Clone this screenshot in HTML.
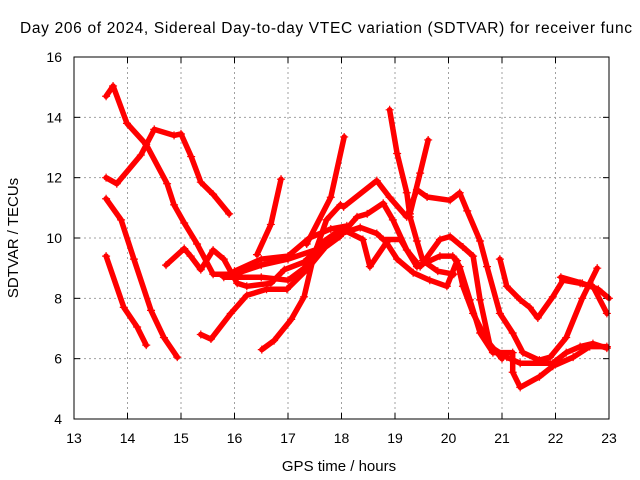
<!DOCTYPE html>
<html><head><meta charset="utf-8"><style>
body{margin:0;background:#fff;}
svg{display:block;font-family:"Liberation Sans",sans-serif;}
</style></head><body>
<svg width="640" height="480" viewBox="0 0 640 480">
<rect width="640" height="480" fill="#fff"/>
<text x="20" y="33" font-size="15.5" fill="#000" textLength="612" lengthAdjust="spacing">Day 206 of 2024, Sidereal Day-to-day VTEC variation (SDTVAR) for receiver func</text>
<g id="grid"></g>
<g id="ticks"></g>
<g id="series"></g>
<rect x="74" y="57" width="535" height="362" fill="none" stroke="#000" stroke-width="1"/>
<text x="339" y="471" font-size="15" text-anchor="middle">GPS time / hours</text>
<text transform="translate(18,238) rotate(-90)" font-size="15" text-anchor="middle">SDTVAR / TECUs</text>
</svg>
<script>
const xTicks=[13,14,15,16,17,18,19,20,21,22,23];
const yTicks=[4,6,8,10,12,14,16];
const trackA=[[13.6,14.7],[13.73,15.04],[13.99,13.8],[14.35,13.1],[14.74,11.8],[14.87,11.1],[15.06,10.5],[15.3,9.8],[15.6,8.8],[16.0,8.8],[16.5,9.1],[17.0,9.3],[17.5,9.6],[18.0,10.2]];
const trackB=[[13.6,12.0],[13.8,11.8],[14.25,12.75],[14.5,13.6],[14.87,13.4],[15.0,13.45],[15.19,12.7],[15.37,11.85],[15.6,11.45],[15.9,10.8]];
const trackC=[[13.6,11.3],[13.88,10.6],[14.12,9.3],[14.44,7.6],[14.68,6.7],[14.93,6.05]];
const trackD=[[13.6,9.4],[13.93,7.7],[14.18,7.05],[14.35,6.45]];
const trackE=[[14.72,9.1],[15.06,9.65],[15.18,9.4],[15.37,8.95],[15.6,9.6],[15.8,9.3],[16.05,8.5],[16.23,8.4],[16.68,8.5],[16.93,8.95],[17.3,9.2],[17.7,9.9],[18.0,10.15],[18.35,10.35],[18.66,10.15],[18.78,9.95],[19.1,9.95],[19.41,9.05],[19.84,9.4],[20.08,9.4],[20.21,9.05],[20.4,7.95],[20.59,6.85],[20.83,6.2],[21.2,6.2],[21.2,5.55],[21.34,5.05],[21.7,5.4],[21.95,5.75],[22.33,6.05],[22.64,6.4],[22.96,6.4]];
const trackF=[[15.37,6.8],[15.56,6.65],[15.93,7.5],[16.23,8.1],[16.6,8.3],[16.98,8.3],[17.35,8.95],[17.7,9.7],[17.97,10.05],[18.29,10.7],[18.48,10.8],[18.78,11.15],[18.96,10.6],[19.22,9.6],[19.47,9.05],[19.84,9.95],[20.03,10.05],[20.27,9.7],[20.46,9.4],[20.59,7.95],[20.78,6.4],[21.09,6.05],[21.34,5.85],[21.95,5.85],[22.2,6.2],[22.46,6.4],[22.7,6.5],[22.96,6.35]];
const trackG=[[16.51,6.3],[16.74,6.6],[17.06,7.3],[17.3,8.05],[17.48,9.4],[17.72,10.6],[17.98,11.1],[18.04,11.03],[18.66,11.9],[18.9,11.35],[19.22,10.7],[19.41,11.6],[19.6,11.36],[20.03,11.25],[20.21,11.5],[20.35,10.9],[20.59,9.9],[20.72,9.05],[20.96,7.5],[21.2,6.85],[21.39,6.2],[21.7,5.95],[21.9,6.05],[22.2,6.7],[22.5,8.0],[22.78,9.0]];
const trackH=[[16.42,9.45],[16.68,10.45],[16.87,11.95]];
const trackI=[[17.35,9.8],[17.8,11.35],[18.05,13.35]];
const trackK=[[18.9,14.25],[19.04,12.8],[19.22,11.5],[19.28,10.7],[19.41,9.9],[19.52,9.25],[19.8,8.9],[20.1,8.8]];
const trackL=[[19.62,13.25],[19.47,12.15],[19.28,10.8]];
const trackP=[[20.96,9.3],[21.09,8.4],[21.34,7.95],[21.52,7.7],[21.67,7.35],[21.95,8.05],[22.14,8.6],[22.46,8.5],[22.7,8.4],[22.96,7.5]];
const trackP2=[[22.1,8.7],[22.5,8.5],[22.8,8.3],[23.0,8.0]];
const trackQ=[[15.8,8.7],[16.5,8.7],[17.0,8.6],[17.3,9.0],[17.6,9.8],[18.0,10.3],[18.4,9.95],[18.53,9.05],[18.84,9.85],[19.04,9.3],[19.34,8.85],[19.65,8.6],[19.97,8.4],[20.16,9.25],[20.27,8.4],[20.46,7.5],[20.72,6.6],[21.0,6.0]];
const trackT=[[16.0,8.9],[16.5,9.3],[17.0,9.4],[17.4,10.0],[17.8,10.3],[18.1,10.4]];
const tracks=[trackA,trackB,trackC,trackD,trackE,trackF,trackG,trackH,trackI,trackK,trackL,trackP,trackP2,trackQ,trackT];
const X0=74,X1=609,Y0=419,Y1=57;
const sx=v=>X0+(v-13)/(23-13)*(X1-X0);
const sy=v=>Y0-(v-4)/(16-4)*(Y0-Y1);
const NS="http://www.w3.org/2000/svg";
function mk(t,a,p){const e=document.createElementNS(NS,t);for(const k in a)e.setAttribute(k,a[k]);p.appendChild(e);return e;}
const grid=document.getElementById('grid'),ticks=document.getElementById('ticks'),ser=document.getElementById('series');
xTicks.forEach(v=>{
  const x=sx(v);
  if(v>13&&v<23){const l=mk('line',{x1:x,x2:x,y1:Y1,y2:Y0,stroke:'#a0a0a0','stroke-dasharray':'2,3'},grid);
  
  }
  mk('line',{x1:x,x2:x,y1:Y0,y2:Y0-6,stroke:'#000'},ticks);
  mk('line',{x1:x,x2:x,y1:Y1,y2:Y1+6,stroke:'#000'},ticks);
  const t=mk('text',{x:x,y:443,'font-size':14,'text-anchor':'middle'},ticks);t.textContent=v;
  
  
});
yTicks.forEach(v=>{
  const y=sy(v);
  if(v>4&&v<16){const l=mk('line',{x1:X0,x2:X1,y1:y,y2:y,stroke:'#a0a0a0','stroke-dasharray':'2,3'},grid);
  
  }
  mk('line',{x1:X0,x2:X0+6,y1:y,y2:y,stroke:'#000'},ticks);
  mk('line',{x1:X1,x2:X1-6,y1:y,y2:y,stroke:'#000'},ticks);
  const t=mk('text',{x:62,y:y+5,'font-size':14,'text-anchor':'end'},ticks);t.textContent=v;
  
  
});
tracks.forEach(tr=>{
  const pts=tr.map(p=>sx(p[0]).toFixed(1)+','+sy(p[1]).toFixed(1)).join(' ');
  const pl=mk('polyline',{points:pts,fill:'none',stroke:'#ff0000','stroke-width':5.5,'stroke-linejoin':'round','stroke-linecap':'round'},ser);
  
  
  tr.forEach(p=>{
    const x=sx(p[0]),y=sy(p[1]);
    const m=mk('path',{d:`M${x-4},${y}H${x+4}M${x},${y-4}V${y+4}`,stroke:'#ff0000','stroke-width':1.2},ser);
    
    
  });
});
</script>
</body></html>
